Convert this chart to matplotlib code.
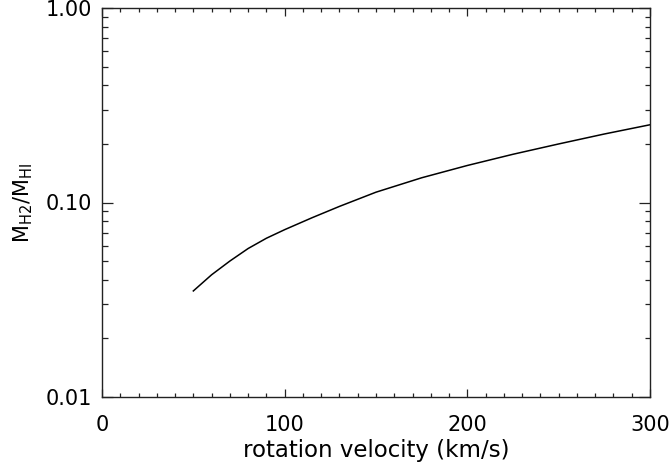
#M_H2/M_HI 随旋转速度变化
import matplotlib
matplotlib.use('Agg')
import matplotlib.pyplot as plt
from matplotlib.ticker import FixedLocator, FuncFormatter, LogLocator, MultipleLocator

# 曲线
v_rot = [50, 60, 70, 80, 90, 100, 115, 130, 150, 175, 200, 225, 250, 275, 300]
ratio = [0.0351, 0.0425, 0.050, 0.058, 0.0655, 0.0725, 0.0835, 0.0955, 0.113,
         0.134, 0.155, 0.177, 0.200, 0.225, 0.251]

x_ticks = [0, 100, 200, 300]
y_ticks = [0.01, 0.1, 1.0]

fig = plt.figure(figsize=(6.72, 4.63), dpi=100)
ax = fig.add_axes([102/672, 1-397/463, 548/672, 389/463])

ax.plot(v_rot, ratio, color='black', lw=1.1)

ax.set_yscale('log')
ax.set_xlim(0, 300)
ax.set_ylim(0.01, 1.0)

ax.xaxis.set_major_locator(FixedLocator(x_ticks))
ax.xaxis.set_minor_locator(MultipleLocator(10))
ax.yaxis.set_major_locator(FixedLocator(y_ticks))
ax.yaxis.set_minor_locator(LogLocator(base=10, subs=range(2, 10)))
ax.yaxis.set_major_formatter(FuncFormatter(lambda y, p: '%.2f' % y))
ax.yaxis.set_minor_formatter(FuncFormatter(lambda y, p: ''))

ax.tick_params(axis='both', which='both', direction='in', top=True, right=True,
               labelsize=15, width=0.9, color='#222222')
ax.tick_params(axis='x', which='major', length=7.8*0.72, pad=13)
ax.tick_params(axis='x', which='minor', length=3.9*0.72)
ax.tick_params(axis='y', which='major', length=11*0.72, pad=7)
ax.tick_params(axis='y', which='minor', length=5.5*0.72)
for s in ax.spines.values():
    s.set_linewidth(1.0)
    s.set_color('#222222')

ax.set_xlabel('rotation velocity (km/s)', fontsize=16.5, labelpad=3)
ax.set_ylabel(r'M$_{\rm H2}$/M$_{\rm HI}$', fontsize=15, labelpad=8)

fig.savefig('out.png', dpi=100)
